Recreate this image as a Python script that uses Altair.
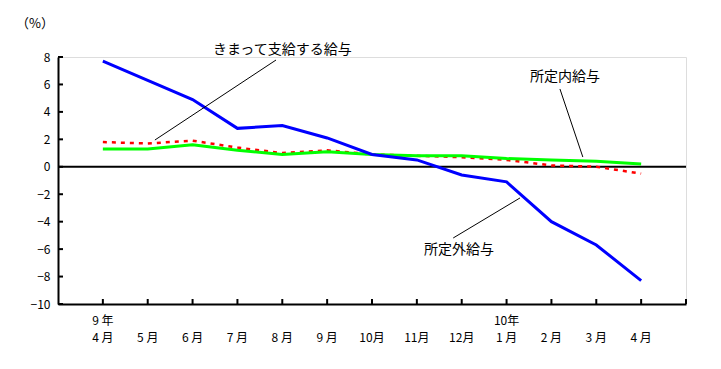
import altair as alt
import pandas as pd

# ---- data -----------------------------------------------------------------
months = ["4 月", "5 月", "6 月", "7 月", "8 月", "9 月", "10月", "11月", "12月",
          "1 月", "2 月", "3 月", "4 月"]
years = ["9 年", "", "", "", "", "", "", "", "", "10年", "", "", ""]
# 所定内給与
scheduled = [1.3, 1.3, 1.6, 1.2, 0.9, 1.1, 0.9, 0.8, 0.8, 0.6, 0.5, 0.4, 0.2]
# きまって支給する給与
contractual = [1.8, 1.7, 1.9, 1.4, 1.0, 1.2, 0.9, 0.8, 0.7, 0.5, 0.1, 0.0, -0.5]
# 所定外給与
overtime = [7.7, 6.3, 4.9, 2.8, 3.0, 2.1, 0.9, 0.5, -0.6, -1.1, -4.0, -5.7, -8.3]

series_names = ["きまって支給する給与", "所定内給与", "所定外給与"]
series_colors = ["#FF0000", "#00FF00", "#0000FF"]

y_ticks = [-10, -8, -6, -4, -2, 0, 2, 4, 6, 8]
x_ticks = list(range(1, 15))

# annotation labels (in data coordinates) and their leader lines
ann_text = ["きまって支給する給与", "所定内給与", "所定外給与"]
ann_tx = [5.0, 11.3, 8.94]
ann_ty = [8.5, 6.55, -6.06]
lead_x1 = [4.86, 11.19, 8.81]
lead_y1 = [7.78, 5.67, -5.19]
lead_x2 = [2.16, 11.70, 10.30]
lead_y2 = [1.95, 0.71, -2.27]

# ---- tables ---------------------------------------------------------------
FONT = "Noto Sans CJK JP"
W, H = 628, 247

idx = list(range(1, len(months) + 1))
rows = []
for name, vals in zip(series_names, [contractual, scheduled, overtime]):
    for i, v in zip(idx, vals):
        rows.append({"i": i, "v": v, "s": name})
df = pd.DataFrame(rows)
lab = pd.DataFrame({"i": idx, "m": months, "y": years})
ann = pd.DataFrame({"t": ann_text, "x": ann_tx, "y": ann_ty})
lead = pd.DataFrame({"x1": lead_x1, "y1": lead_y1, "x2": lead_x2, "y2": lead_y2})

xs = alt.Scale(domain=[0, 14], nice=False, zero=False)
ys = alt.Scale(domain=[-10, 8], nice=False, zero=False)
xaxis = alt.Axis(labels=False, ticks=False, grid=False, domain=True, domainWidth=2,
                 domainColor="black", title=None)
yaxis = alt.Axis(values=y_ticks, ticks=False, grid=False, domain=True, domainWidth=2,
                 domainColor="black", title=None, labelFont=FONT, labelFontSize=12,
                 labelColor="black", labelPadding=8)


def X(f):
    return alt.X(f, scale=xs, axis=xaxis, title=None)


def Y(f):
    return alt.Y(f, scale=ys, axis=yaxis, title=None)


ytick = alt.Chart(pd.DataFrame({"v": y_ticks})).mark_rule(color="black", strokeWidth=2).encode(
    y=Y("v:Q"), x=alt.value(0), x2=alt.value(5))
xtick = alt.Chart(pd.DataFrame({"i": x_ticks})).mark_rule(color="black", strokeWidth=2).encode(
    x=X("i:Q"), y=alt.value(H), y2=alt.value(H - 5))
zero = alt.Chart(pd.DataFrame({"v": [0]})).mark_rule(color="black", strokeWidth=2).encode(
    y=Y("v:Q"), x=alt.value(0), x2=alt.value(W))


def series_line(name, color, dash=None):
    kw = dict(color=color, strokeWidth=3, interpolate="linear")
    if dash:
        kw["strokeDash"] = dash
        kw["strokeWidth"] = 2.5
    return alt.Chart(df[df.s == name]).mark_line(**kw).encode(x=X("i:Q"), y=Y("v:Q"))


red = series_line(series_names[0], series_colors[0], dash=[4, 5])
green = series_line(series_names[1], series_colors[1])
blue = series_line(series_names[2], series_colors[2])

mlab = alt.Chart(lab).mark_text(font=FONT, fontSize=12, color="black", baseline="middle").encode(
    x=X("i:Q"), y=alt.value(281), text="m:N")
ylab = alt.Chart(lab[lab.y != ""]).mark_text(font=FONT, fontSize=12, color="black", baseline="middle").encode(
    x=X("i:Q"), y=alt.value(264), text="y:N")

leaders = alt.Chart(lead).mark_rule(color="black", strokeWidth=1).encode(
    x=X("x1:Q"), y=Y("y1:Q"), x2="x2:Q", y2="y2:Q")
anntext = alt.Chart(ann).mark_text(font=FONT, fontSize=14, color="black", baseline="middle").encode(
    x=X("x:Q"), y=Y("y:Q"), text="t:N")

unit = alt.Chart(pd.DataFrame({"t": ["（%）"]})).mark_text(
    font=FONT, fontSize=13, color="black", baseline="middle").encode(
    x=alt.value(-23), y=alt.value(-33), text="t:N")

chart = alt.layer(ytick, xtick, zero, red, green, blue, mlab, ylab,
                  leaders, anntext, unit).properties(
    width=W, height=H,
    autosize=alt.AutoSizeParams(type="none"),
    padding={"left": 50, "top": 49, "right": 27, "bottom": 57},
).configure_view(stroke=None).configure(background="white")

chart.save("out.html", embed_options={"renderer": "svg", "actions": False})
